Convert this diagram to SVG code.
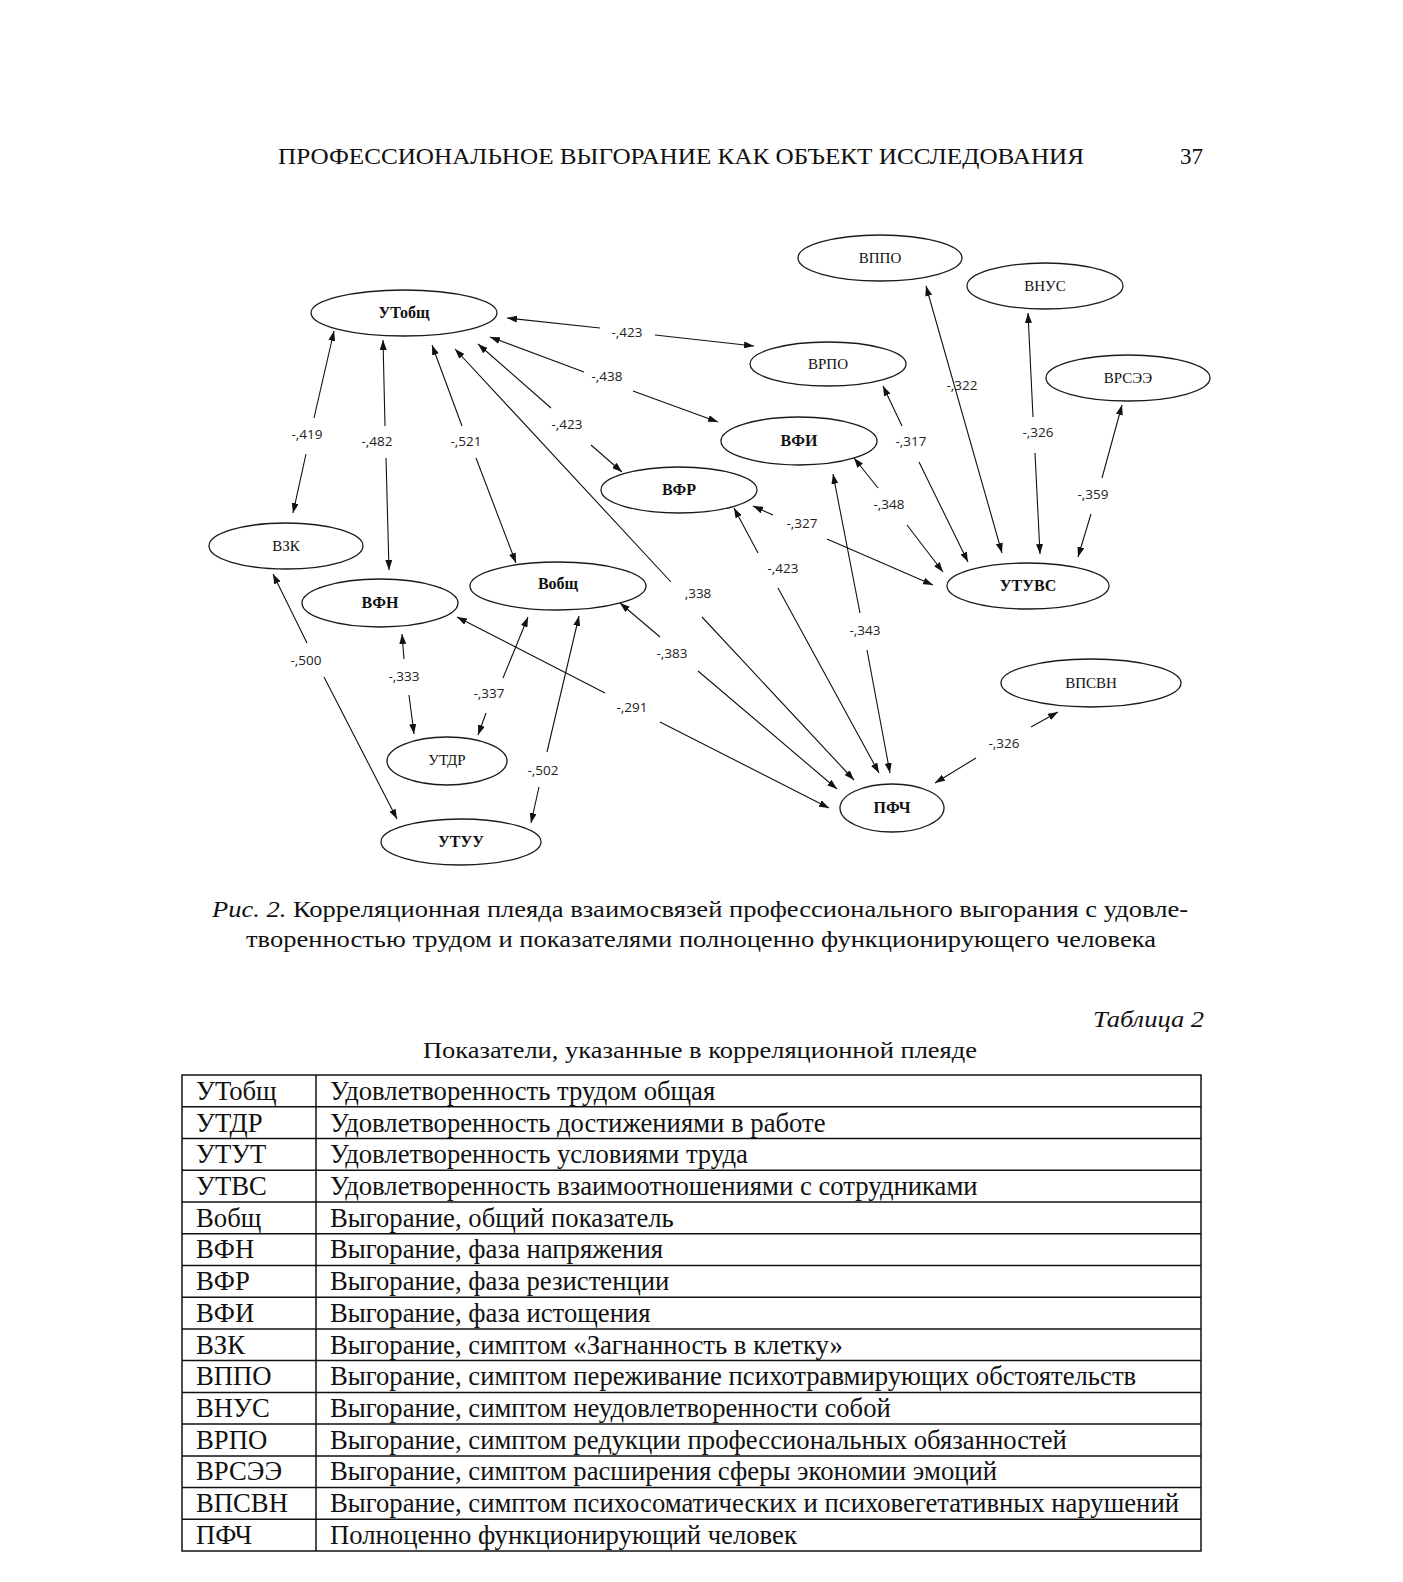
<svg xmlns="http://www.w3.org/2000/svg" width="1403" height="1582" viewBox="0 0 1403 1582">
<style>
.bg{fill:#fff}
.node ellipse{fill:#fff;stroke:#1a1a1a;stroke-width:1.3}
.nl{font-family:"Liberation Serif","Times New Roman",serif;font-size:15px;fill:#111;text-anchor:middle}
.b{font-weight:bold;font-size:16px}
.edge{fill:none;stroke:#111;stroke-width:1.1;marker-start:url(#ah);marker-end:url(#ah)}
.el{font-family:"Open Sans","DejaVu Sans",sans-serif;font-size:13.5px;fill:#222;text-anchor:middle}
.doc{font-family:"Liberation Serif","Times New Roman",serif;fill:#111}
.tb{font-family:"Liberation Serif","Times New Roman",serif;font-size:26.7px;fill:#111}
.grid{stroke:#111;stroke-width:1.5;fill:none}
</style>
<defs>
<marker id="ah" viewBox="0 0 10 7" refX="10" refY="3.5" markerWidth="10" markerHeight="7" markerUnits="userSpaceOnUse" orient="auto-start-reverse">
<path d="M0,0 L10,3.5 L0,7 z" fill="#111"/>
</marker>
</defs>
<rect class="bg" x="0" y="0" width="1403" height="1582"/>

<text class="doc" x="278" y="164" font-size="23" textLength="806" lengthAdjust="spacingAndGlyphs">ПРОФЕССИОНАЛЬНОЕ ВЫГОРАНИЕ КАК ОБЪЕКТ ИССЛЕДОВАНИЯ</text>
<text class="doc" x="1180" y="164" font-size="23">37</text>

<g id="connectors">
<path class="edge" d="M507,318 L600,328 M655,335 L754,346"/>
<path class="edge" d="M490,337 L584,372 M633,391 L718,422"/>
<path class="edge" d="M478,344 L551,408 M591,445 L622,472"/>
<path class="edge" d="M455,349 L671,582 M702,617 L854,780"/>
<path class="edge" d="M432,345 L462,426 M476,458 L516,563"/>
<path class="edge" d="M383,340 L385,426 M386,458 L389,570"/>
<path class="edge" d="M334,331 L314,418 M306,454 L293,513"/>
<path class="edge" d="M273,574 L307,643 M324,677 L397,819"/>
<path class="edge" d="M402,634 L404,659 M409,695 L414,734"/>
<path class="edge" d="M528,617 L503,678 M486,713 L478,735"/>
<path class="edge" d="M579,616 L547,752 M539,787 L531,823"/>
<path class="edge" d="M457,617 L605,693 M660,722 L829,808"/>
<path class="edge" d="M620,603 L660,637 M698,671 L837,789"/>
<path class="edge" d="M734,508 L758,553 M778,588 L879,773"/>
<path class="edge" d="M833,474 L860,613 M867,650 L890,773"/>
<path class="edge" d="M753,506 L773,515 M827,539 L933,585"/>
<path class="edge" d="M854,458 L878,488 M907,525 L943,572"/>
<path class="edge" d="M883,386 L902,426 M919,462 L968,562"/>
<path class="edge" d="M926,286 L1002,553"/>
<path class="edge" d="M1028,313 L1033,417 M1035,453 L1040,554"/>
<path class="edge" d="M1122,405 L1102,478 M1091,514 L1078,557"/>
<path class="edge" d="M1058,712 L1031,727 M976,758 L935,783"/>
<text class="el" x="627" y="337">-,423</text>
<text class="el" x="607" y="381">-,438</text>
<text class="el" x="567" y="429">-,423</text>
<text class="el" x="698" y="598">,338</text>
<text class="el" x="466" y="446">-,521</text>
<text class="el" x="377" y="446">-,482</text>
<text class="el" x="307" y="439">-,419</text>
<text class="el" x="306" y="665">-,500</text>
<text class="el" x="404" y="681">-,333</text>
<text class="el" x="489" y="698">-,337</text>
<text class="el" x="543" y="775">-,502</text>
<text class="el" x="632" y="712">-,291</text>
<text class="el" x="672" y="658">-,383</text>
<text class="el" x="783" y="573">-,423</text>
<text class="el" x="865" y="635">-,343</text>
<text class="el" x="802" y="528">-,327</text>
<text class="el" x="889" y="509">-,348</text>
<text class="el" x="911" y="446">-,317</text>
<text class="el" x="962" y="390">-,322</text>
<text class="el" x="1038" y="437">-,326</text>
<text class="el" x="1093" y="499">-,359</text>
<text class="el" x="1004" y="748">-,326</text>
</g>

<g id="n-utobsch" class="node"><ellipse cx="404" cy="313" rx="93" ry="23"/><text class="nl b" x="404" y="318">УТобщ</text></g>
<g id="n-vppo" class="node"><ellipse cx="880" cy="258" rx="82" ry="23"/><text class="nl" x="880" y="263">ВППО</text></g>
<g id="n-vnus" class="node"><ellipse cx="1045" cy="286" rx="78" ry="23"/><text class="nl" x="1045" y="291">ВНУС</text></g>
<g id="n-vrpo" class="node"><ellipse cx="828" cy="364" rx="78" ry="22"/><text class="nl" x="828" y="369">ВРПО</text></g>
<g id="n-vrsee" class="node"><ellipse cx="1128" cy="378" rx="82" ry="23"/><text class="nl" x="1128" y="383">ВРСЭЭ</text></g>
<g id="n-vfi" class="node"><ellipse cx="799" cy="441" rx="78" ry="24"/><text class="nl b" x="799" y="446">ВФИ</text></g>
<g id="n-vfr" class="node"><ellipse cx="679" cy="490" rx="78" ry="23"/><text class="nl b" x="679" y="495">ВФР</text></g>
<g id="n-vzk" class="node"><ellipse cx="286" cy="546" rx="77" ry="23"/><text class="nl" x="286" y="551">ВЗК</text></g>
<g id="n-utuvs" class="node"><ellipse cx="1028" cy="586" rx="81" ry="23"/><text class="nl b" x="1028" y="591">УТУВС</text></g>
<g id="n-vobsch" class="node"><ellipse cx="558" cy="586" rx="88" ry="24"/><text class="nl b" x="558" y="589">Вобщ</text></g>
<g id="n-vfn" class="node"><ellipse cx="380" cy="603" rx="78" ry="24"/><text class="nl b" x="380" y="608">ВФН</text></g>
<g id="n-vpsvn" class="node"><ellipse cx="1091" cy="683" rx="90" ry="24"/><text class="nl" x="1091" y="688">ВПСВН</text></g>
<g id="n-utdr" class="node"><ellipse cx="447" cy="761" rx="60" ry="24"/><text class="nl" x="447" y="765">УТДР</text></g>
<g id="n-pfch" class="node"><ellipse cx="892" cy="808" rx="52" ry="24"/><text class="nl b" x="892" y="813">ПФЧ</text></g>
<g id="n-utuu" class="node"><ellipse cx="461" cy="842" rx="80" ry="23"/><text class="nl b" x="461" y="847">УТУУ</text></g>

<text class="doc" x="212" y="917" font-size="24" textLength="976" lengthAdjust="spacingAndGlyphs"><tspan font-style="italic">Рис. 2.</tspan> Корреляционная плеяда взаимосвязей профессионального выгорания с удовле-</text>
<text class="doc" x="246" y="947" font-size="24" textLength="910" lengthAdjust="spacingAndGlyphs">творенностью трудом и показателями полноценно функционирующего человека</text>

<text class="doc" x="1093" y="1027" font-size="24" font-style="italic" textLength="111" lengthAdjust="spacingAndGlyphs">Таблица 2</text>
<text class="doc" x="423" y="1058" font-size="24" textLength="554" lengthAdjust="spacingAndGlyphs">Показатели, указанные в корреляционной плеяде</text>

<g id="table">
<rect class="grid" x="182" y="1075" width="1019" height="476"/>
<line class="grid" x1="316" y1="1075" x2="316" y2="1551"/>
<path class="grid" d="M182,1106.7H1201 M182,1138.5H1201 M182,1170.2H1201 M182,1202H1201 M182,1233.7H1201 M182,1265.4H1201 M182,1297.2H1201 M182,1328.9H1201 M182,1360.6H1201 M182,1392.4H1201 M182,1424.1H1201 M182,1455.9H1201 M182,1487.6H1201 M182,1519.3H1201"/>
<g class="tb">
<text x="196" y="1100">УТобщ</text><text x="330" y="1100">Удовлетворенность трудом общая</text>
<text x="196" y="1132">УТДР</text><text x="330" y="1132">Удовлетворенность достижениями в работе</text>
<text x="196" y="1163">УТУТ</text><text x="330" y="1163">Удовлетворенность условиями труда</text>
<text x="196" y="1195">УТВС</text><text x="330" y="1195">Удовлетворенность взаимоотношениями с сотрудниками</text>
<text x="196" y="1227">Вобщ</text><text x="330" y="1227">Выгорание, общий показатель</text>
<text x="196" y="1258">ВФН</text><text x="330" y="1258">Выгорание, фаза напряжения</text>
<text x="196" y="1290">ВФР</text><text x="330" y="1290">Выгорание, фаза резистенции</text>
<text x="196" y="1322">ВФИ</text><text x="330" y="1322">Выгорание, фаза истощения</text>
<text x="196" y="1354">ВЗК</text><text x="330" y="1354">Выгорание, симптом «Загнанность в клетку»</text>
<text x="196" y="1385">ВППО</text><text x="330" y="1385">Выгорание, симптом переживание психотравмирующих обстоятельств</text>
<text x="196" y="1417">ВНУС</text><text x="330" y="1417">Выгорание, симптом неудовлетворенности собой</text>
<text x="196" y="1449">ВРПО</text><text x="330" y="1449">Выгорание, симптом редукции профессиональных обязанностей</text>
<text x="196" y="1480">ВРСЭЭ</text><text x="330" y="1480">Выгорание, симптом расширения сферы экономии эмоций</text>
<text x="196" y="1512">ВПСВН</text><text x="330" y="1512">Выгорание, симптом психосоматических и психовегетативных нарушений</text>
<text x="196" y="1544">ПФЧ</text><text x="330" y="1544">Полноценно функционирующий человек</text>
</g>
</g>
</svg>
